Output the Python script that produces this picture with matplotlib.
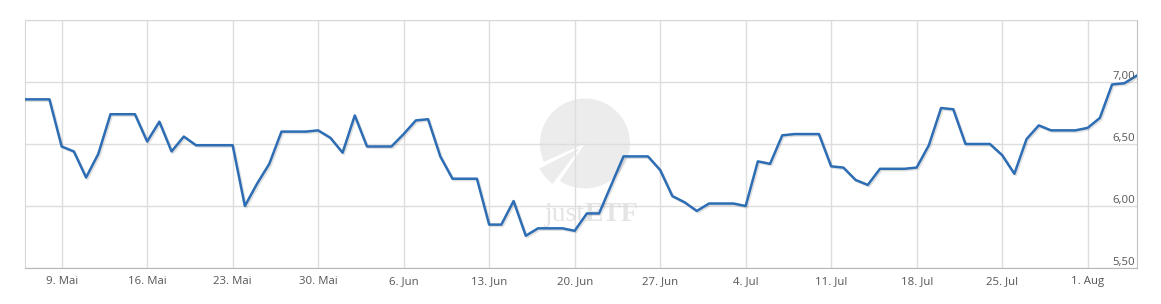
import matplotlib
matplotlib.use("Agg")
import matplotlib.pyplot as plt
import matplotlib.patheffects as pe
from matplotlib.patches import Wedge, Rectangle
from matplotlib.transforms import IdentityTransform
import numpy as np
import pandas as pd

# ---- data ----
start_date = "2022-05-06"
end_date = "2022-08-05"
prices = [
    6.86, 6.86, 6.86, 6.48, 6.44, 6.23, 6.42, 6.74, 6.74, 6.74,
    6.52, 6.68, 6.44, 6.56, 6.49, 6.49, 6.49, 6.49, 6.00, 6.18,
    6.34, 6.60, 6.60, 6.60, 6.61, 6.55, 6.43, 6.73, 6.48, 6.48,
    6.48, 6.58, 6.69, 6.70, 6.40, 6.22, 6.22, 6.22, 5.85, 5.85,
    6.04, 5.76, 5.82, 5.82, 5.82, 5.80, 5.94, 5.94, 6.17, 6.40,
    6.40, 6.40, 6.29, 6.08, 6.03, 5.96, 6.02, 6.02, 6.02, 6.00,
    6.36, 6.34, 6.57, 6.58, 6.58, 6.58, 6.32, 6.31, 6.21, 6.17,
    6.30, 6.30, 6.30, 6.31, 6.49, 6.79, 6.78, 6.50, 6.50, 6.50,
    6.41, 6.26, 6.54, 6.65, 6.61, 6.61, 6.61, 6.63, 6.71, 6.98,
    6.99, 7.05,
]
tick_dates = ["2022-05-09", "2022-05-16", "2022-05-23", "2022-05-30",
              "2022-06-06", "2022-06-13", "2022-06-20", "2022-06-27",
              "2022-07-04", "2022-07-11", "2022-07-18", "2022-07-25",
              "2022-08-01"]
tick_labels = ["9. Mai", "16. Mai", "23. Mai", "30. Mai", "6. Jun", "13. Jun",
               "20. Jun", "27. Jun", "4. Jul", "11. Jul", "18. Jul", "25. Jul",
               "1. Aug"]
y_ticks = [5.5, 6.0, 6.5, 7.0]
y_labels = ["5,50", "6,00", "6,50", "7,00"]

dates = pd.date_range(start_date, end_date, freq="D")

W, H = 1161, 304
fig = plt.figure(figsize=(W / 100, H / 100), dpi=100)
ax = fig.add_axes([25 / W, 36 / H, (1136.5 - 25) / W, (268 - 20) / H])
ax.set_facecolor("none")
ax.set_zorder(5)

# watermark (justETF logo), drawn beneath the axes
wm_color = "#ececec"
cx, cy, r = 585, H - 143.5, 45
idt = IdentityTransform()
fig.patches.append(Wedge((cx, cy), r, 236, 204 + 360, transform=idt,
                         facecolor=wm_color, edgecolor="none", zorder=-3))
ang = np.deg2rad(220)
off = 7
fig.patches.append(Wedge((cx + off * np.cos(ang), cy + off * np.sin(ang)), r, 207, 233,
                         transform=idt, facecolor=wm_color, edgecolor="none", zorder=-3))
fig.text(cx / W, (H - 221) / H, "just", fontsize=20, family="Liberation Serif",
         color="#e4e4e4", ha="right", va="baseline", zorder=-2)
fig.text(cx / W, (H - 221) / H, "ETF", fontsize=20, family="Liberation Serif",
         color="#e4e4e4", ha="left", va="baseline", zorder=-2, weight="bold")

ax.plot(dates, prices, color="#2d6db4", lw=1.8, solid_joinstyle="round",
        path_effects=[pe.SimpleLineShadow(offset=(1, -1), shadow_color="black", alpha=0.12),
                      pe.Normal()], zorder=3)

ax.set_xlim(dates[0], dates[-1])
ax.set_ylim(5.5, 7.5)
ax.set_yticks([5.5, 6.0, 6.5, 7.0, 7.5])
ax.set_yticklabels([])
ax.tick_params(axis="y", length=0)
ax.set_xticks(pd.to_datetime(tick_dates))
ax.set_xticklabels(tick_labels, fontsize=8.2, color="#555555", family="Open Sans")
ax.tick_params(axis="x", length=0, pad=6)
ax.grid(True, color="#dddddd", lw=1)
ax.set_axisbelow(True)

for v, lab in zip(y_ticks, y_labels):
    ax.text(0.9985, v, lab, transform=ax.get_yaxis_transform(), ha="right", va="bottom",
            fontsize=8.2, color="#555555", family="Open Sans", zorder=4)

for s in ["left", "top", "right"]:
    ax.spines[s].set_color("#d8d8d8")
ax.spines["right"].set_color("#c0c0c0")
ax.spines["bottom"].set_color("#b8b8b8")

fig.savefig("out.png", dpi=100)
